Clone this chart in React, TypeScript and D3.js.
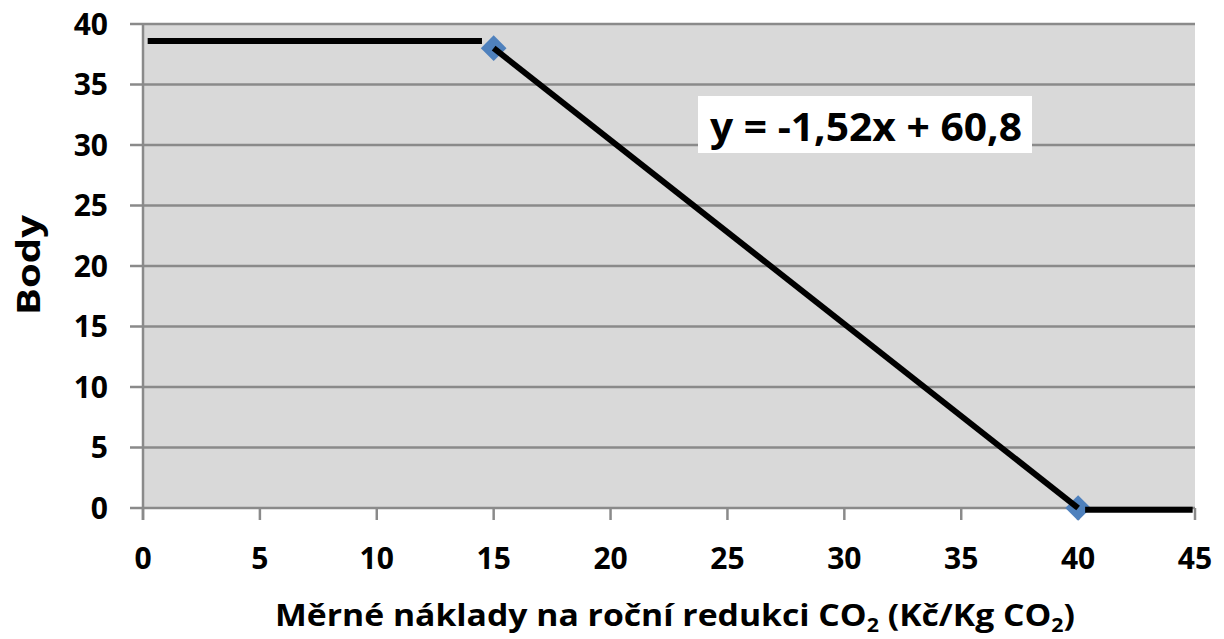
import * as d3 from 'd3'

const WIDTH = 1224
const HEIGHT = 639
const PLOT = { left: 143, right: 1195, top: 24, bottom: 508 }

const xTicks = [0, 5, 10, 15, 20, 25, 30, 35, 40, 45]
const yTicks = [0, 5, 10, 15, 20, 25, 30, 35, 40]

// flat part before the first point
const capX = [0.2, 14.5]
const capY = [38.6, 38.6]
// measured points, joined by the fitted line
const pointX = [15, 40]
const pointY = [38, 0]
// flat part after the last point
const tailX = [40.3, 44.9]
const tailY = [-0.15, -0.15]

const equation = 'y = -1,52x + 60,8'
const yLabel = 'Body'

const FONT = "'Open Sans', 'Noto Sans', sans-serif"

export default function App() {
  const x = d3.scaleLinear([0, 45], [PLOT.left, PLOT.right])
  const y = d3.scaleLinear([0, 40], [PLOT.bottom, PLOT.top])
  const line = d3.line<[number, number]>(
    (d) => x(d[0]),
    (d) => y(d[1]),
  )
  const zip = (xs: number[], ys: number[]) => xs.map((v, i) => [v, ys[i]] as [number, number])
  const diamond = d3.symbol(d3.symbolDiamond2, 420)()

  return (
    <svg
      width={WIDTH}
      height={HEIGHT}
      style={{ position: 'absolute', left: 0, top: 0, background: '#fff' }}
      fontFamily={FONT}
      fontWeight="bold"
    >
      <rect
        x={PLOT.left}
        y={PLOT.top}
        width={PLOT.right - PLOT.left}
        height={PLOT.bottom - PLOT.top}
        fill="#d9d9d9"
      />
      {yTicks.map((t) => (
        <g key={'y' + t}>
          <line x1={PLOT.left - 13} x2={PLOT.right} y1={y(t)} y2={y(t)} stroke="#8a8a8a" strokeWidth={2.5} />
          <text x={108} y={y(t)} dy="0.36em" textAnchor="end" fontSize={30} fill="#000">
            {t}
          </text>
        </g>
      ))}
      <line x1={PLOT.left} x2={PLOT.left} y1={PLOT.top} y2={PLOT.bottom + 12} stroke="#8a8a8a" strokeWidth={2.5} />
      {xTicks.map((t) => (
        <g key={'x' + t}>
          <line x1={x(t)} x2={x(t)} y1={PLOT.bottom} y2={PLOT.bottom + 12} stroke="#8a8a8a" strokeWidth={2.5} />
          <text x={x(t)} y={569} textAnchor="middle" fontSize={30} fill="#000">
            {t}
          </text>
        </g>
      ))}

      {zip(pointX, pointY).map((d, i) => (
        <path key={i} d={diamond!} transform={`translate(${x(d[0])},${y(d[1])})`} fill="#4f81bd" />
      ))}
      <path d={line(zip(capX, capY))!} fill="none" stroke="#000" strokeWidth={6} />
      <path d={line(zip(pointX, pointY))!} fill="none" stroke="#000" strokeWidth={6} />
      <path d={line(zip(tailX, tailY))!} fill="none" stroke="#000" strokeWidth={6} />

      <rect x={698} y={96} width={334} height={57} fill="#fff" />
      <text x={710} y={141} fontSize={40} textLength={312} lengthAdjust="spacingAndGlyphs" fill="#000">
        {equation}
      </text>

      <text
        transform="translate(40,265) rotate(-90)"
        textAnchor="middle"
        fontSize={33}
        textLength={100}
        lengthAdjust="spacingAndGlyphs"
        fill="#000"
      >
        {yLabel}
      </text>
      <text x={275} y={626} fontSize={30} textLength={800} lengthAdjust="spacingAndGlyphs" fill="#000">
        Měrné náklady na roční redukci CO
        <tspan fontSize={19} dy={6}>2</tspan>
        <tspan dy={-6}> (Kč/Kg CO</tspan>
        <tspan fontSize={19} dy={6}>2</tspan>
        <tspan dy={-6}>)</tspan>
      </text>
    </svg>
  )
}
